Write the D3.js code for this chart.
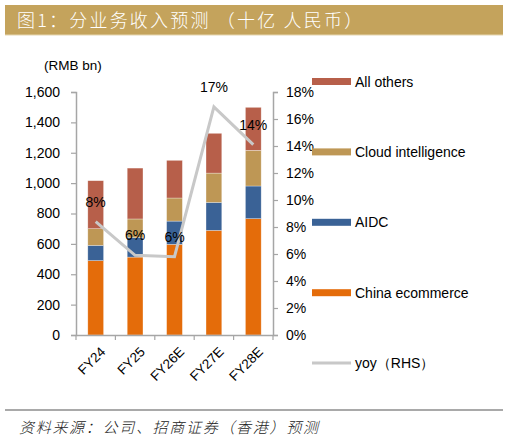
<!doctype html>
<html>
  <head>
    <meta charset="utf-8">
    <title>分业务收入预测</title>
    <script src="https://cdnjs.cloudflare.com/ajax/libs/d3/7.8.5/d3.min.js"></script>
    <style>
      body { margin: 0; background: #fff; }
      text { font-family: "Liberation Sans", Arial, sans-serif; }
      .cjk { font-family: "Noto Sans CJK SC", sans-serif; }
    </style>
  </head>
  <body>
    <div id="chart"></div>
    <script>
      // data
      const years = ['FY24', 'FY25', 'FY26E', 'FY27E', 'FY28E'];
      const chinaEcommerce = [490, 513, 597, 689, 766];
      const aidc = [100, 128, 153, 184, 215];
      const cloud = [110, 123, 152, 193, 235];
      const allOthers = [316, 335, 248, 262, 283];
      const yoy = [8.4, 5.9, 5.8, 16.9, 14.1];
      const yoyLabels = ['8%', '6%', '6%', '17%', '14%'];
      const leftTicks = [0, 200, 400, 600, 800, 1000, 1200, 1400, 1600];
      const rightTicks = [0, 2, 4, 6, 8, 10, 12, 14, 16, 18];

      const seriesNames = ['China ecommerce', 'AIDC', 'Cloud intelligence', 'All others'];
      const colors = ['#E46C0A', '#3A6296', '#BE9755', '#B75F4A'];
      const lineColor = '#C8C8C8';
      const axisColor = '#A6A6A6';

      const svg = d3.select('#chart').append('svg')
        .attr('width', 510)
        .attr('height', 441);

      // title bar
      svg.append('rect')
        .attr('x', 5).attr('y', 5)
        .attr('width', 498).attr('height', 30)
        .style('fill', '#C4A35C');
      svg.append('line')
        .attr('x1', 5).attr('x2', 503).attr('y1', 35).attr('y2', 35)
        .style('stroke', '#E6D6B0').style('stroke-width', 1);
      svg.append('text')
        .attr('class', 'cjk')
        .attr('x', 17).attr('y', 27)
        .style('font-size', '18px')
        .style('font-weight', 300)
        .style('fill', '#fff')
        .style('letter-spacing', '2.2px')
        .text('图1：分业务收入预测 （十亿 人民币）');

      const x = d3.scaleBand().domain(years).range([76, 273]).paddingInner(0.6).paddingOuter(0.3);
      const y = d3.scaleLinear().domain([0, 1600]).range([335, 92]);
      const y2 = d3.scaleLinear().domain([0, 18]).range([335, 92]);

      // stacked bars
      const rows = years.map((yr, i) => ({
        year: yr,
        'China ecommerce': chinaEcommerce[i],
        'AIDC': aidc[i],
        'Cloud intelligence': cloud[i],
        'All others': allOthers[i]
      }));
      const stacked = d3.stack().keys(seriesNames)(rows);

      svg.append('g')
        .selectAll('g')
        .data(stacked)
        .join('g')
        .style('fill', (d, i) => colors[i])
        .selectAll('rect')
        .data(d => d)
        .join('rect')
        .attr('x', d => x(d.data.year))
        .attr('y', d => y(d[1]))
        .attr('width', x.bandwidth())
        .attr('height', d => y(d[0]) - y(d[1]))
        .style('stroke', '#fff')
        .style('stroke-opacity', 0.5)
        .style('stroke-width', 0.6);

      // axes
      const leftAxis = svg.append('g')
        .attr('transform', 'translate(76,0)')
        .call(d3.axisLeft(y).tickValues(leftTicks).tickSize(5).tickPadding(11).tickFormat(d3.format(',')));
      const rightAxis = svg.append('g')
        .attr('transform', 'translate(273,0)')
        .call(d3.axisRight(y2).tickValues(rightTicks).tickSize(5).tickPadding(8).tickFormat(d => d + '%'));
      const bottomAxis = svg.append('g')
        .attr('transform', 'translate(0,335)')
        .call(d3.axisBottom(x).tickSize(0).tickFormat(''));

      [leftAxis, rightAxis, bottomAxis].forEach(g => {
        g.select('.domain').style('stroke', axisColor).style('stroke-width', 1.5);
        g.selectAll('.tick line').style('stroke', axisColor).style('stroke-width', 1.2);
        g.selectAll('.tick text')
          .style('font-family', '"Liberation Sans", Arial, sans-serif')
          .style('font-size', '14px')
          .style('fill', '#000');
      });

      // category boundary ticks below the x axis
      const step = x.step();
      const bounds = d3.range(years.length + 1).map(i => 76 + i * step);
      svg.append('g')
        .selectAll('line')
        .data(bounds)
        .join('line')
        .attr('x1', d => d).attr('x2', d => d)
        .attr('y1', 335).attr('y2', 340)
        .style('stroke', axisColor).style('stroke-width', 1.2);

      // rotated category labels
      svg.append('g')
        .selectAll('text')
        .data(years)
        .join('text')
        .attr('transform', d => `translate(${x(d) + x.bandwidth() / 2 + 4},${346}) rotate(-45)`)
        .attr('text-anchor', 'end')
        .attr('dy', '0.7em')
        .style('font-size', '13.5px')
        .text(d => d);

      // yoy line
      const line = d3.line()
        .x((d, i) => x(years[i]) + x.bandwidth() / 2)
        .y(d => y2(d));
      svg.append('path')
        .datum(yoy)
        .attr('d', line)
        .style('fill', 'none')
        .style('stroke', lineColor)
        .style('stroke-width', 3);

      svg.append('g')
        .selectAll('text')
        .data(yoy)
        .join('text')
        .attr('x', (d, i) => x(years[i]) + x.bandwidth() / 2)
        .attr('y', d => y2(d) - 15)
        .attr('text-anchor', 'middle')
        .style('font-size', '14px')
        .text((d, i) => yoyLabels[i]);

      // unit label
      svg.append('text')
        .attr('x', 44).attr('y', 70)
        .style('font-size', '13.5px')
        .text('(RMB bn)');

      // legend
      const legendItems = ['All others', 'Cloud intelligence', 'AIDC', 'China ecommerce'];
      const legendColors = ['#B75F4A', '#BE9755', '#3A6296', '#E46C0A'];
      const legend = svg.append('g');
      legendItems.forEach((name, i) => {
        const ly = 81.5 + i * 70.4;
        legend.append('rect')
          .attr('x', 312).attr('y', ly - 3.5)
          .attr('width', 39).attr('height', 7)
          .style('fill', legendColors[i]);
        legend.append('text')
          .attr('x', 355).attr('y', ly + 5)
          .style('font-size', '14px')
          .text(name);
      });
      const lyy = 81.5 + 4 * 70.4;
      legend.append('line')
        .attr('x1', 312).attr('x2', 351)
        .attr('y1', lyy).attr('y2', lyy)
        .style('stroke', lineColor).style('stroke-width', 3);
      legend.append('text')
        .attr('x', 355).attr('y', lyy + 5)
        .style('font-size', '14px')
        .text('yoy（RHS）');

      // footer
      svg.append('line')
        .attr('x1', 5).attr('x2', 503)
        .attr('y1', 410).attr('y2', 410)
        .style('stroke', '#555').style('stroke-width', 1.2);
      svg.append('text')
        .attr('class', 'cjk')
        .attr('x', 19).attr('y', 433)
        .style('font-size', '15px')
        .style('font-weight', 300)
        .style('font-style', 'italic')
        .style('letter-spacing', '1.7px')
        .style('fill', '#222')
        .text('资料来源：公司、招商证券（香港）预测');
    </script>
  </body>
</html>
